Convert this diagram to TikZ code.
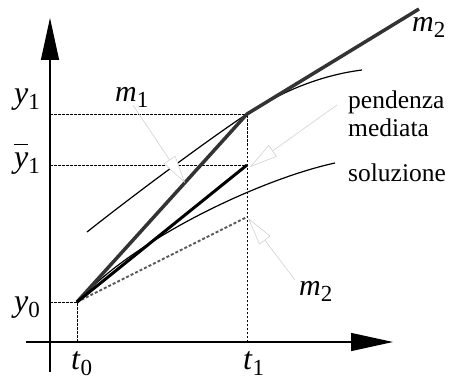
\documentclass[tikz,border=0pt]{standalone}
\usepackage{fontspec}
\setmainfont{Liberation Serif}
\usetikzlibrary{arrows.meta}

\newcommand{\symsub}[2]{\textit{#1}\raisebox{-6pt}{\fontsize{23}{23}\selectfont #2}}
\newcommand{\symbar}[1]{\vbox{\hrule height 1.2pt \kern 7pt \hbox{\textit{#1}}}}

\begin{document}
\begin{tikzpicture}[x=1pt, y=-1pt,
  axis/.style  = {line width=1.3pt, -{Triangle[length=42pt, width=18pt]}},
  guide/.style = {line width=0.7pt, dash pattern=on 2.5pt off 1.5pt},
  sol/.style   = {line width=1.2pt},
  slope/.style = {line width=3.5pt, black!80},
  avg/.style   = {line width=3pt},
  trial/.style = {line width=2pt, black!65, dash pattern=on 3pt off 2pt},
  ptr/.style   = {gray!35, line width=0.6pt,
                  -{Triangle[length=28pt, width=14pt, fill=white]}},
  lbl/.style   = {font=\fontsize{32}{32}\selectfont, inner sep=0pt,
                  anchor=base west},
  txt/.style   = {font=\fontsize{25.5}{28}\selectfont, inner sep=0pt,
                  anchor=base west, align=left}
]
\useasboundingbox (0,0) rectangle (454,382);

% axes
\coordinate (xs) at (26,342);
\coordinate (xe) at (393,342);
\coordinate (ys) at (50,372);
\coordinate (ye) at (50,18);
\draw[axis] (xs) -- (xe);
\draw[axis] (ys) -- (ye);

% points
\coordinate (p0)  at (77,302);
\coordinate (p1)  at (247,114);
\coordinate (pb)  at (247,165);
\coordinate (pm)  at (247,217);
\coordinate (q)   at (419,9);
\coordinate (at0) at (77,342);
\coordinate (at1) at (247,342);
\coordinate (ay0) at (50,302);
\coordinate (ay1) at (50,114);
\coordinate (ayb) at (50,165);

\draw[guide] (ay1) -- (p1);
\draw[guide] (ayb) -- (pb);
\draw[guide] (ay0) -- (p0) -- (at0);
\draw[guide] (at1) -- (p1);

% solution curves
\coordinate (s0) at (87,232);
\coordinate (s1) at (362,70);
\coordinate (s2) at (335,163);
\draw[sol] (s0) .. controls (140,190) and (215,135) .. (p1)
                .. controls (290,86) and (330,74) .. (s1);
\draw[sol] (p0) .. controls (137,236) and (265,178) .. (s2);

% slopes
\draw[trial] (p0) -- (pm);
\draw[slope] (p0) -- (p1) -- (q);
\draw[avg]   (p0) -- (pb);

% labels
\node[lbl] (ly1) at (14,104) {\symsub{y}{1}};
\node[lbl] (lyb) at (14,167) {\symsub{\symbar{y}}{1}};
\node[lbl] (ly0) at (14,311) {\symsub{y}{0}};
\node[lbl] (lt0) at (71,369) {\symsub{t}{0}};
\node[lbl] (lt1) at (243,369) {\symsub{t}{1}};
\node[lbl, font=\fontsize{30}{30}\selectfont] (lm1) at (115,102) {\symsub{m}{1}};
\node[lbl, font=\fontsize{30}{30}\selectfont] (lm2) at (412,32) {\symsub{m}{2}};
\node[lbl, font=\fontsize{30}{30}\selectfont] (lm2b) at (299,295) {\symsub{m}{2}};
\node[txt] (lpm) at (348,136) {pendenza\\mediata};
\node[txt] (lsol) at (348,181) {soluzione};

% pointers
\coordinate (m1tail) at (133,105);
\coordinate (m1tip)  at (185,183);
\coordinate (pmtail) at (337,105);
\coordinate (pmtip)  at (250,167);
\coordinate (m2tail) at (295,280);
\coordinate (m2tip)  at (248,218);
\draw[ptr] (m1tail) -- (m1tip);
\draw[ptr] (pmtail) -- (pmtip);
\draw[ptr] (m2tail) -- (m2tip);
\end{tikzpicture}
\end{document}
